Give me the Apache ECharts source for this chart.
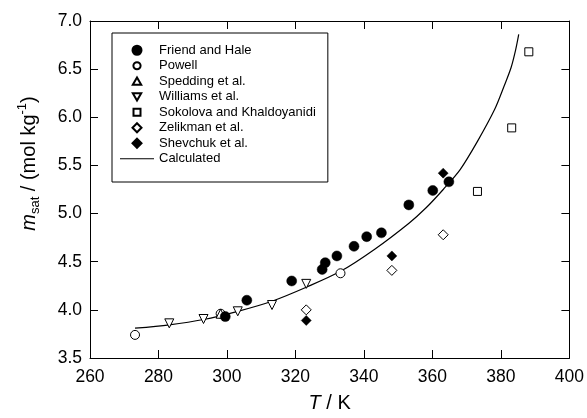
<!DOCTYPE html>
<html><head><meta charset="utf-8">
<script src="https://cdn.jsdelivr.net/npm/echarts@6/dist/echarts.min.js"></script>
<style>html,body{margin:0;padding:0;background:#fff}#c{width:587px;height:418px}</style>
</head><body><div id="c"></div>
<script>
// Data (T in K, m_sat in mol/kg)
const friendT = [299.5, 305.8, 318.9, 327.8, 328.7, 332.1, 337.1, 340.8, 345.1, 353.1, 360.1, 364.8];
const friendM = [3.93, 4.10, 4.30, 4.42, 4.49, 4.56, 4.66, 4.76, 4.80, 5.09, 5.24, 5.33];
const powellT = [273.15, 298.15, 333.15];
const powellM = [3.74, 3.96, 4.38];
const speddingT = [298.15];
const speddingM = [3.96];
const williamsT = [283.15, 293.15, 303.15, 313.15, 323.15];
const williamsM = [3.86, 3.905, 3.985, 4.05, 4.27];
const sokolovaT = [373.15, 383.15, 388.15];
const sokolovaM = [5.23, 5.89, 6.68];
const zelikmanT = [323.15, 348.15, 363.15];
const zelikmanM = [4.00, 4.41, 4.78];
const shevchukT = [323.15, 348.15, 363.15];
const shevchukM = [3.89, 4.56, 5.42];
const calcT = [273.15, 283.15, 293.15, 303.15, 313.15, 323.15, 333.15, 343.15, 353.15, 358.15, 363.15, 368.15, 373.15, 378.15, 381.0, 383.0, 384.3, 385.2];
const calcM = [3.81, 3.845, 3.90, 3.985, 4.09, 4.235, 4.40, 4.63, 4.90, 5.06, 5.25, 5.46, 5.75, 6.08, 6.33, 6.52, 6.70, 6.86];
const legendNames = ['Friend and Hale', 'Powell', 'Spedding et al.', 'Williams et al.', 'Sokolova and Khaldoyanidi', 'Zelikman et al.', 'Shevchuk et al.', 'Calculated'];
const xTicks = {min: 260, max: 400, interval: 20};
const yTicks = {min: 3.5, max: 7.0, interval: 0.5};

const pairs = (a, b) => a.map((v, i) => [v, b[i]]);
const FONT = 'Liberation Sans, Arial, sans-serif';
const openStyle = {color: '#fff', borderColor: '#000', borderWidth: 1, opacity: 1};
const fillStyle = {color: '#000', borderColor: '#000', borderWidth: 0.5, opacity: 1};

function scatter(name, data, symbol, size, style, rotate) {
  return {name, type: 'scatter', data, symbol, symbolSize: size, symbolRotate: rotate || 0,
    symbolKeepAspect: true, itemStyle: style, emphasis: {disabled: true}, animation: false, z: 3};
}

const axisCommon = {
  axisLine: {show: true, onZero: false, lineStyle: {color: '#000', width: 1}},
  axisTick: {show: true, inside: true, length: 8, lineStyle: {color: '#000', width: 1}},
  splitLine: {show: false}
};

// legend glyph shapes (kept at their own aspect inside the legend item box)
const legendIcons = {
  'Friend and Hale': 'circle',
  'Powell': 'path://M0,0M10,10M5,1A4,4 0 1,1 4.99,1Z',
  'Spedding et al.': 'path://M0,0M9,9M0.3,8L4.5,0.8L8.7,8Z',
  'Williams et al.': 'path://M0,0M9,9M0.3,1L4.5,8.2L8.7,1Z',
  'Sokolova and Khaldoyanidi': 'path://M0,0M9,9M1,1H8V8H1Z',
  'Zelikman et al.': 'path://M4.5,0L9,4.5L4.5,9L0,4.5Z',
  'Shevchuk et al.': 'path://M4.5,0L9,4.5L4.5,9L0,4.5Z',
  'Calculated': 'path://M0,0H34V1.2H0Z'
};
const legendData = legendNames.map(n => ({name: n, icon: legendIcons[n], symbolKeepAspect: true}));

const chart = echarts.init(document.getElementById('c'), null, {renderer: 'canvas'});
chart.setOption({
  animation: false,
  backgroundColor: '#fff',
  grid: {left: 90, right: 17, top: 21, bottom: 60},
  legend: {
    orient: 'vertical', left: 112, top: 33,
    data: legendData,
    itemWidth: 34, itemHeight: 9, itemGap: 0,
    padding: [9.5, 12, 15.5, 8],
    borderColor: '#000', borderWidth: 1, backgroundColor: '#fff',
    selectedMode: false,
    textStyle: {fontFamily: FONT, fontSize: 13, color: '#000', lineHeight: 15.5}
  },
  xAxis: [
    Object.assign({type: 'value', position: 'bottom', min: xTicks.min, max: xTicks.max, interval: xTicks.interval,
      name: '{i|T}{n| / K}', nameLocation: 'middle', nameGap: 35,
      nameTextStyle: {rich: {i: {fontFamily: FONT, fontSize: 20, fontStyle: 'italic', color: '#000'}, n: {fontFamily: FONT, fontSize: 20, color: '#000'}}},
      axisLabel: {fontFamily: FONT, fontSize: 17.5, color: '#000', margin: 10}}, axisCommon),
    Object.assign({type: 'value', position: 'top', min: xTicks.min, max: xTicks.max, interval: xTicks.interval,
      axisLabel: {show: false}}, axisCommon)
  ],
  yAxis: [
    Object.assign({type: 'value', position: 'left', min: yTicks.min, max: yTicks.max, interval: yTicks.interval,
      name: '{i|m}{sub|sat}{n| / (mol kg}{sup|-1}{n|)}', nameLocation: 'middle', nameGap: 46, nameRotate: 90,
      nameTextStyle: {padding: [0, 0, 0, 52], rich: {
        i: {fontFamily: FONT, fontSize: 20, fontStyle: 'italic', color: '#000', lineHeight: 30, verticalAlign: 'middle'},
        n: {fontFamily: FONT, fontSize: 20, color: '#000', lineHeight: 30, verticalAlign: 'middle'},
        sub: {fontFamily: FONT, fontSize: 13, color: '#000', lineHeight: 30, verticalAlign: 'bottom', padding: [0, 0, 2, 0]},
        sup: {fontFamily: FONT, fontSize: 13, color: '#000', lineHeight: 30, verticalAlign: 'top', padding: [2, 0, 0, 0]}
      }},
      axisLabel: {fontFamily: FONT, fontSize: 17.5, color: '#000', margin: 8, formatter: v => v.toFixed(1)}}, axisCommon),
    Object.assign({type: 'value', position: 'right', min: yTicks.min, max: yTicks.max, interval: yTicks.interval,
      axisLabel: {show: false}}, axisCommon)
  ],
  series: [
    {name: 'Calculated', type: 'line', data: pairs(calcT, calcM), smooth: 0.3, symbol: 'none', showSymbol: false,
      lineStyle: {color: '#000', width: 1.2}, itemStyle: {color: '#000'}, emphasis: {disabled: true}, z: 2},
    scatter('Powell', pairs(powellT, powellM), 'circle', 9, openStyle),
    scatter('Spedding et al.', pairs(speddingT, speddingM), 'triangle', 9, openStyle),
    scatter('Williams et al.', pairs(williamsT, williamsM), 'triangle', 9, openStyle, 180),
    scatter('Sokolova and Khaldoyanidi', pairs(sokolovaT, sokolovaM), 'rect', 8, openStyle),
    scatter('Zelikman et al.', pairs(zelikmanT, zelikmanM), 'diamond', [10, 10], openStyle),
    scatter('Shevchuk et al.', pairs(shevchukT, shevchukM), 'diamond', [10, 10], fillStyle),
    scatter('Friend and Hale', pairs(friendT, friendM), 'circle', 10, fillStyle)
  ]
});
</script></body></html>
